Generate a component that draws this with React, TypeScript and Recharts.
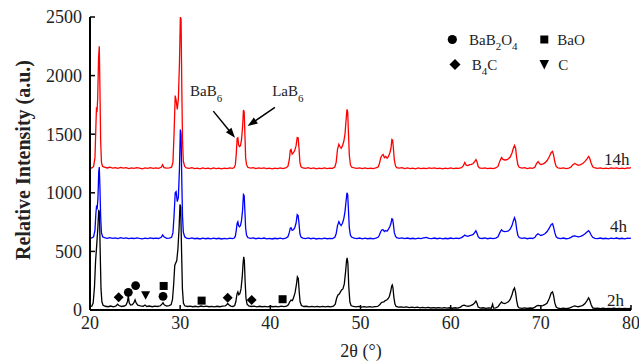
import React from 'react';
import { ComposedChart, Line, Scatter, XAxis, YAxis, Customized } from 'recharts';

const FONT = "'Liberation Serif', 'Times New Roman', serif";

const xTicks = [20, 30, 40, 50, 60, 70, 80];
const yTicks = [0, 500, 1000, 1500, 2000, 2500];

type P = [number, number];

const red14h: P[] = [
  [20.0,1215],[20.2,1212],[20.4,1225],[20.55,1300],[20.65,1560],[20.72,1730],[20.78,1690],[20.85,1800],[20.95,2150],[21.03,2250],
  [21.1,1900],[21.18,1450],[21.27,1260],[21.4,1225],[21.6,1218],[21.9,1212],[22.2,1218],[22.5,1210],[22.8,1215],[23.1,1208],
  [23.4,1216],[23.7,1210],[24.0,1214],[24.3,1206],[24.6,1212],[24.9,1208],[25.2,1215],[25.5,1210],[25.8,1205],[26.1,1212],
  [26.4,1208],[26.7,1214],[27.0,1209],[27.3,1212],[27.6,1208],[27.9,1218],[28.05,1240],[28.2,1215],[28.5,1210],[28.8,1213],
  [29.05,1218],[29.2,1260],[29.32,1500],[29.45,1830],[29.55,1790],[29.68,1712],[29.8,1800],[29.92,2100],[30.02,2500],[30.1,2480],
  [30.18,1900],[30.26,1450],[30.35,1270],[30.5,1225],[30.7,1212],[31.0,1208],[31.3,1214],[31.6,1206],[31.9,1210],[32.2,1204],
  [32.5,1212],[32.8,1206],[33.1,1210],[33.4,1205],[33.7,1212],[34.0,1207],[34.3,1210],[34.6,1204],[34.9,1210],[35.2,1206],
  [35.5,1212],[35.8,1208],[36.0,1215],[36.12,1240],[36.22,1330],[36.32,1465],[36.4,1470],[36.48,1410],[36.58,1395],[36.68,1400],
  [36.8,1450],[36.92,1560],[37.02,1706],[37.1,1690],[37.18,1500],[37.26,1300],[37.36,1240],[37.5,1218],[37.8,1210],[38.1,1214],
  [38.4,1206],[38.7,1212],[39.0,1208],[39.3,1213],[39.6,1206],[39.9,1210],[40.2,1204],[40.5,1211],[40.8,1207],[41.1,1212],
  [41.4,1206],[41.7,1213],[41.95,1225],[42.1,1280],[42.22,1365],[42.3,1370],[42.42,1330],[42.55,1340],[42.7,1360],[42.85,1400],
  [42.98,1472],[43.08,1470],[43.18,1380],[43.28,1260],[43.4,1222],[43.6,1212],[43.9,1208],[44.2,1214],[44.5,1207],[44.8,1212],
  [45.1,1205],[45.4,1210],[45.7,1206],[46.0,1212],[46.3,1207],[46.6,1210],[46.9,1208],[47.15,1220],[47.3,1260],[47.45,1370],
  [47.6,1413],[47.72,1395],[47.85,1380],[48.0,1400],[48.15,1440],[48.28,1500],[48.4,1620],[48.5,1712],[48.58,1690],[48.66,1520],
  [48.76,1320],[48.88,1240],[49.0,1220],[49.3,1212],[49.6,1208],[49.9,1213],[50.2,1206],[50.5,1212],[50.8,1207],[51.1,1211],
  [51.4,1206],[51.7,1212],[51.95,1220],[52.1,1250],[52.25,1300],[52.4,1320],[52.52,1327],[52.65,1300],[52.8,1310],[52.95,1295],
  [53.1,1310],[53.25,1340],[53.38,1380],[53.48,1455],[53.56,1450],[53.65,1380],[53.75,1280],[53.88,1230],[54.0,1215],[54.3,1210],
  [54.6,1214],[54.9,1207],[55.2,1212],[55.5,1206],[55.8,1210],[56.1,1205],[56.4,1212],[56.7,1207],[57.0,1211],[57.3,1206],
  [57.6,1212],[57.9,1208],[58.2,1213],[58.5,1207],[58.8,1211],[59.1,1205],[59.4,1210],[59.7,1206],[60.0,1212],[60.3,1207],
  [60.6,1211],[60.9,1208],[61.2,1215],[61.4,1230],[61.57,1258],[61.72,1235],[61.9,1232],[62.1,1240],[62.3,1242],[62.5,1250],
  [62.65,1265],[62.8,1284],[62.92,1265],[63.05,1225],[63.2,1212],[63.5,1208],[63.8,1213],[64.1,1206],[64.4,1211],[64.7,1207],
  [65.0,1212],[65.25,1225],[65.45,1270],[65.64,1301],[65.8,1285],[66.0,1280],[66.2,1282],[66.4,1290],[66.6,1305],[66.8,1340],
  [66.95,1380],[67.08,1404],[67.2,1380],[67.32,1300],[67.45,1240],[67.6,1218],[67.9,1210],[68.2,1214],[68.5,1207],[68.8,1212],
  [69.1,1208],[69.35,1220],[69.52,1250],[69.7,1267],[69.85,1250],[70.0,1242],[70.2,1245],[70.45,1255],[70.7,1275],[70.95,1310],
  [71.15,1345],[71.3,1353],[71.42,1320],[71.55,1265],[71.7,1225],[71.9,1212],[72.2,1208],[72.5,1213],[72.8,1207],[73.1,1211],
  [73.35,1220],[73.55,1240],[73.77,1250],[73.95,1242],[74.15,1235],[74.4,1240],[74.65,1250],[74.9,1268],[75.12,1290],[75.3,1310],
  [75.42,1295],[75.58,1255],[75.75,1222],[76.0,1212],[76.3,1208],[76.6,1213],[76.9,1207],[77.2,1211],[77.5,1206],[77.8,1212],
  [78.1,1208],[78.4,1213],[78.7,1207],[79.0,1211],[79.3,1206],[79.6,1212],[79.85,1210],[80.0,1215],
];

const blue4h: P[] = [
  [20.0,612],[20.2,615],[20.4,625],[20.55,680],[20.65,820],[20.72,880],[20.8,870],[20.88,950],[20.97,1180],[21.03,1220],
  [21.1,1050],[21.18,800],[21.27,660],[21.4,625],[21.6,617],[21.9,612],[22.2,618],[22.5,611],[22.8,616],[23.1,610],
  [23.4,617],[23.7,612],[24.0,615],[24.3,609],[24.6,614],[24.9,610],[25.2,616],[25.5,611],[25.8,607],[26.1,613],
  [26.4,609],[26.7,615],[27.0,610],[27.3,613],[27.6,610],[27.9,620],[28.05,640],[28.2,625],[28.5,612],[28.8,614],
  [29.05,620],[29.2,660],[29.32,800],[29.45,1000],[29.55,1010],[29.68,925],[29.8,960],[29.92,1200],[30.02,1540],[30.1,1500],
  [30.18,1100],[30.26,800],[30.35,665],[30.5,625],[30.7,614],[31.0,609],[31.3,615],[31.6,608],[31.9,612],[32.2,606],
  [32.5,613],[32.8,608],[33.1,612],[33.4,607],[33.7,613],[34.0,608],[34.3,612],[34.6,606],[34.9,611],[35.2,607],
  [35.5,613],[35.8,609],[36.0,614],[36.12,630],[36.22,680],[36.32,740],[36.4,753],[36.48,720],[36.58,710],[36.68,720],
  [36.8,760],[36.92,850],[37.02,985],[37.1,975],[37.18,840],[37.26,700],[37.36,640],[37.5,618],[37.8,611],[38.1,615],
  [38.4,608],[38.7,613],[39.0,609],[39.3,614],[39.6,607],[39.9,611],[40.2,606],[40.5,612],[40.8,608],[41.1,613],
  [41.4,607],[41.7,614],[41.95,625],[42.1,660],[42.22,700],[42.3,702],[42.42,680],[42.55,685],[42.7,700],[42.85,740],
  [42.98,813],[43.08,805],[43.18,740],[43.28,650],[43.4,622],[43.6,613],[43.9,609],[44.2,615],[44.5,608],[44.8,613],
  [45.1,606],[45.4,611],[45.7,607],[46.0,613],[46.3,608],[46.6,611],[46.9,609],[47.15,620],[47.3,650],[47.45,720],
  [47.6,753],[47.72,735],[47.85,720],[48.0,740],[48.15,780],[48.28,840],[48.4,930],[48.5,1000],[48.58,985],[48.66,860],
  [48.76,700],[48.88,640],[49.0,622],[49.3,613],[49.6,609],[49.9,614],[50.2,607],[50.5,613],[50.8,608],[51.1,612],
  [51.4,607],[51.7,613],[51.95,620],[52.1,640],[52.25,670],[52.4,685],[52.52,684],[52.65,670],[52.8,678],[52.95,672],
  [53.1,690],[53.25,710],[53.38,740],[53.48,779],[53.56,775],[53.65,730],[53.75,660],[53.88,630],[54.0,617],[54.3,612],
  [54.6,615],[54.9,609],[55.2,614],[55.5,608],[55.8,612],[56.1,607],[56.4,613],[56.7,609],[57.0,615],[57.3,620],
  [57.6,612],[57.9,609],[58.2,614],[58.5,608],[58.8,613],[59.1,607],[59.4,612],[59.7,608],[60.0,614],[60.3,609],
  [60.6,613],[60.9,610],[61.2,618],[61.4,628],[61.57,640],[61.72,632],[61.9,628],[62.1,634],[62.3,638],[62.5,645],
  [62.65,660],[62.8,676],[62.92,655],[63.05,625],[63.2,614],[63.5,610],[63.8,615],[64.1,608],[64.4,613],[64.7,609],
  [65.0,614],[65.25,625],[65.45,660],[65.64,685],[65.8,672],[66.0,668],[66.2,670],[66.4,675],[66.6,690],[66.8,720],
  [66.95,760],[67.08,788],[67.2,760],[67.32,690],[67.45,638],[67.6,618],[67.9,611],[68.2,615],[68.5,608],[68.8,613],
  [69.1,610],[69.35,620],[69.52,640],[69.7,650],[69.85,642],[70.0,636],[70.2,640],[70.45,650],[70.7,670],[70.95,700],
  [71.15,730],[71.3,736],[71.42,705],[71.55,660],[71.7,625],[71.9,613],[72.2,609],[72.5,614],[72.8,608],[73.1,612],
  [73.35,620],[73.55,630],[73.77,633],[73.95,628],[74.15,624],[74.4,628],[74.65,636],[74.9,650],[75.12,665],[75.3,676],
  [75.42,665],[75.58,640],[75.75,620],[76.0,612],[76.3,609],[76.6,614],[76.9,608],[77.2,612],[77.5,607],[77.8,613],
  [78.1,609],[78.4,614],[78.7,608],[79.0,612],[79.3,607],[79.6,613],[79.85,611],[80.0,614],
];

const black2h: P[] = [
  [20.0,30],[20.2,33],[20.35,60],[20.5,200],[20.62,420],[20.75,560],[20.87,700],[20.97,855],[21.05,830],[21.13,500],
  [21.22,180],[21.32,70],[21.45,40],[21.7,32],[22.0,28],[22.3,34],[22.6,27],[22.9,35],[23.05,50],[23.2,38],
  [23.5,30],[23.8,34],[24.0,42],[24.15,70],[24.25,120],[24.35,62],[24.5,42],[24.7,46],[24.87,62],[25.0,86],
  [25.12,60],[25.3,42],[25.6,35],[25.9,32],[26.1,42],[26.3,30],[26.6,34],[26.9,28],[27.2,33],[27.5,30],
  [27.8,36],[27.98,50],[28.1,62],[28.22,45],[28.5,33],[28.8,38],[29.0,46],[29.15,90],[29.28,220],[29.4,380],
  [29.5,400],[29.62,420],[29.75,520],[29.88,700],[29.98,900],[30.06,880],[30.15,520],[30.25,180],[30.36,60],[30.5,36],
  [30.8,30],[31.1,33],[31.4,28],[31.7,32],[32.0,27],[32.3,34],[32.6,29],[32.9,33],[33.2,28],[33.5,31],
  [33.8,27],[34.1,32],[34.4,28],[34.7,33],[35.0,35],[35.15,45],[35.27,55],[35.4,45],[35.6,33],[35.85,30],
  [36.05,38],[36.17,70],[36.3,135],[36.4,154],[36.5,130],[36.62,140],[36.75,180],[36.88,280],[36.98,400],[37.05,454],
  [37.12,420],[37.2,250],[37.3,100],[37.42,50],[37.6,34],[37.9,30],[38.2,33],[38.5,27],[38.8,32],[39.1,28],
  [39.4,31],[39.7,27],[40.0,32],[40.3,28],[40.6,31],[40.9,27],[41.2,33],[41.5,29],[41.8,33],[42.0,45],
  [42.15,70],[42.3,85],[42.45,80],[42.6,110],[42.75,150],[42.9,220],[43.0,283],[43.1,270],[43.2,160],[43.3,70],
  [43.45,38],[43.7,30],[44.0,32],[44.3,27],[44.6,31],[44.9,26],[45.2,30],[45.5,27],[45.8,31],[46.1,26],
  [46.4,30],[46.7,27],[47.0,33],[47.2,50],[47.35,100],[47.5,128],[47.62,135],[47.75,150],[47.9,171],[48.05,180],
  [48.2,220],[48.35,330],[48.45,420],[48.52,445],[48.6,400],[48.7,200],[48.82,70],[48.95,38],[49.2,30],[49.5,26],
  [49.8,30],[50.1,25],[50.4,29],[50.7,24],[51.0,28],[51.3,24],[51.6,28],[51.9,30],[52.1,42],[52.3,62],
  [52.45,68],[52.6,70],[52.75,80],[52.9,85],[53.05,95],[53.2,115],[53.35,160],[53.46,205],[53.53,214],[53.6,190],
  [53.7,110],[53.82,50],[53.95,30],[54.2,24],[54.5,27],[54.8,22],[55.1,26],[55.4,21],[55.7,25],[56.0,20],
  [56.3,24],[56.6,19],[56.9,23],[57.2,18],[57.5,22],[57.8,17],[58.1,21],[58.4,17],[58.7,20],[59.0,16],
  [59.3,20],[59.6,16],[59.9,19],[60.2,15],[60.5,19],[60.8,16],[61.1,25],[61.3,38],[61.5,42],[61.7,36],
  [61.95,32],[62.2,38],[62.45,45],[62.65,60],[62.8,77],[62.93,55],[63.05,25],[63.3,16],[63.6,19],[63.9,14],
  [64.2,18],[64.5,15],[64.65,50],[64.75,16],[65.0,18],[65.25,28],[65.45,50],[65.64,68],[65.8,58],[66.0,55],
  [66.2,62],[66.4,70],[66.6,90],[66.8,130],[66.95,170],[67.08,188],[67.2,150],[67.32,80],[67.45,30],[67.6,17],
  [67.9,14],[68.2,18],[68.5,13],[68.8,17],[69.1,15],[69.35,25],[69.55,36],[69.7,40],[69.85,38],[70.0,35],
  [70.2,38],[70.45,45],[70.7,60],[70.95,100],[71.15,145],[71.3,154],[71.42,120],[71.55,60],[71.7,25],[71.9,15],
  [72.2,12],[72.5,16],[72.8,12],[73.1,15],[73.35,22],[73.55,30],[73.77,35],[73.95,30],[74.15,28],[74.4,32],
  [74.65,40],[74.9,55],[75.12,80],[75.3,103],[75.42,85],[75.58,45],[75.75,18],[76.0,13],[76.3,16],[76.6,12],
  [76.9,15],[77.2,11],[77.5,14],[77.8,11],[78.1,15],[78.4,12],[78.7,14],[79.0,11],[79.3,14],[79.6,12],[80.0,13],
];

// phase markers on the 2h pattern
const circleMarks: P[] = [[24.25,151],[25.06,208],[28.1,117]];
const squareMarks: P[] = [[28.17,205],[32.38,80],[41.36,92]];
const diamondMarks: P[] = [[23.18,109],[35.27,105],[37.93,86]];
const triangleMarks: P[] = [[26.17,126]];

// arrow annotations (tip at data point)
const annotations = [
  { x: 36.08, y: 1470, main: 'BaB', sub: '6' },
  { x: 37.48, y: 1569, main: 'LaB', sub: '6' },
];

const rows = (a: P[]) => a.map(([x, y]) => ({ x, y }));

const annoLayout: Record<string, { sx: number; sy: number; tx: number; ty: number }> = {
  BaB: { sx: -21.7, sy: -26.6, tx: -45, ty: -41.6 },
  LaB: { sx: 27.3, sy: -18.7, tx: 24.6, ty: -29.7 },
};

const CircleShape = (p: any) => <circle cx={p.cx} cy={p.cy} r={4.4} fill="#000" />;
const SquareShape = (p: any) => <rect x={p.cx - 4} y={p.cy - 4} width={8} height={8} fill="#000" />;
const DiamondShape = (p: any) => (
  <polygon points={`${p.cx},${p.cy - 5} ${p.cx + 5},${p.cy} ${p.cx},${p.cy + 5} ${p.cx - 5},${p.cy}`} fill="#000" />
);
const TriangleShape = (p: any) => (
  <polygon points={`${p.cx - 4.5},${p.cy - 4} ${p.cx + 4.5},${p.cy - 4} ${p.cx},${p.cy + 4.5}`} fill="#000" />
);

const ArrowShape = (props: any) => {
  const { cx, cy, payload } = props;
  const L = annoLayout[payload.main];
  const x0 = cx + L.sx;
  const y0 = cy + L.sy;
  const dx = cx - x0;
  const dy = cy - y0;
  const len = Math.hypot(dx, dy);
  const ux = dx / len;
  const uy = dy / len;
  const head = 10;
  const hw = 3.6;
  const bx = cx - ux * head;
  const by = cy - uy * head;
  const pts = `${cx},${cy} ${bx - uy * hw},${by + ux * hw} ${bx + uy * hw},${by - ux * hw}`;
  return (
    <g>
      <line x1={x0} y1={y0} x2={bx + ux * 2} y2={by + uy * 2} stroke="#000" strokeWidth={1.5} />
      <polygon points={pts} fill="#000" />
      <text x={cx + L.tx} y={cy + L.ty} fontSize={15} fontFamily={FONT} fill="#222">
        {payload.main}
        <tspan dy={6} fontSize={11}>{payload.sub}</tspan>
      </text>
    </g>
  );
};

const Decorations = () => (
  <g fontFamily={FONT} fill="#222">
    <text x={23} y={160} transform="rotate(-90, 23, 160)" textAnchor="middle" dominantBaseline="central" fontSize={20} fontWeight="bold">
      Relative Intensity (a.u.)
    </text>
    <text x={361} y={357} textAnchor="middle" fontSize={18}>2θ (°)</text>
    <text x={604} y={165} fontSize={17}>14h</text>
    <text x={610} y={232} fontSize={17}>4h</text>
    <text x={607} y={306} fontSize={17}>2h</text>
    <circle cx={452.3} cy={39.5} r={4.6} fill="#000" />
    <text x={469} y={44.5} fontSize={15}>
      BaB<tspan dy={5} fontSize={11}>2</tspan><tspan dy={-5}>O</tspan><tspan dy={5} fontSize={11}>4</tspan>
    </text>
    <rect x={540.3} y={35.5} width={8} height={8} fill="#000" />
    <text x={557.3} y={44.5} fontSize={15}>BaO</text>
    <polygon points="455,59 460.5,64.5 455,70 449.5,64.5" fill="#000" />
    <text x={471.7} y={69.5} fontSize={15}>
      B<tspan dy={5} fontSize={11}>4</tspan><tspan dy={-5}>C</tspan>
    </text>
    <polygon points="539.5,60 549,60 544.3,69.5" fill="#000" />
    <text x={558.3} y={69.5} fontSize={15}>C</text>
  </g>
);

const axisLine = { stroke: '#000', strokeWidth: 2 };
const tickLine = { stroke: '#000', strokeWidth: 1.5 };
const tickStyle = { fontSize: 18, fill: '#222', fontFamily: FONT, style: { fontFamily: FONT } };

export default function App() {
  return (
    <div style={{ position: 'absolute', left: 0, top: 0, width: 639, height: 363, background: '#fff', fontFamily: FONT }}>
      <ComposedChart width={639} height={363} margin={{ top: 17, right: 8, bottom: 0, left: 0 }} style={{ fontFamily: FONT }}>
        <XAxis
          xAxisId="b"
          dataKey="x"
          type="number"
          domain={[20, 80]}
          ticks={xTicks}
          allowDataOverflow
          height={53}
          axisLine={axisLine}
          tickLine={tickLine}
          tickSize={-5}
          tickMargin={11}
          tick={tickStyle}
          interval={0}
        />
        <XAxis
          xAxisId="t"
          orientation="top"
          dataKey="x"
          type="number"
          domain={[20, 80]}
          ticks={xTicks}
          allowDataOverflow
          height={0}
          axisLine={axisLine}
          tickLine={tickLine}
          tickSize={-5}
          tickFormatter={() => ''}
          interval={0}
        />
        <YAxis
          yAxisId="l"
          type="number"
          domain={[0, 2500]}
          ticks={yTicks}
          allowDataOverflow
          width={90}
          axisLine={axisLine}
          tickLine={tickLine}
          tickSize={-5}
          tickMargin={13}
          tick={tickStyle}
          interval={0}
        />
        <YAxis
          yAxisId="r"
          orientation="right"
          type="number"
          domain={[0, 2500]}
          ticks={yTicks}
          allowDataOverflow
          width={0}
          axisLine={axisLine}
          tickLine={tickLine}
          tickSize={-5}
          tickFormatter={() => ''}
          interval={0}
        />
        <Line xAxisId="b" yAxisId="l" data={rows(black2h)} dataKey="y" stroke="#000" strokeWidth={1.3} dot={false} isAnimationActive={false} />
        <Line xAxisId="b" yAxisId="l" data={rows(blue4h)} dataKey="y" stroke="#0000ff" strokeWidth={1.3} dot={false} isAnimationActive={false} />
        <Line xAxisId="b" yAxisId="l" data={rows(red14h)} dataKey="y" stroke="#ff0000" strokeWidth={1.3} dot={false} isAnimationActive={false} />
        <Scatter xAxisId="b" yAxisId="l" data={rows(circleMarks)} dataKey="y" shape={CircleShape} isAnimationActive={false} />
        <Scatter xAxisId="b" yAxisId="l" data={rows(squareMarks)} dataKey="y" shape={SquareShape} isAnimationActive={false} />
        <Scatter xAxisId="b" yAxisId="l" data={rows(diamondMarks)} dataKey="y" shape={DiamondShape} isAnimationActive={false} />
        <Scatter xAxisId="b" yAxisId="l" data={rows(triangleMarks)} dataKey="y" shape={TriangleShape} isAnimationActive={false} />
        <Scatter xAxisId="b" yAxisId="l" data={annotations} dataKey="y" shape={ArrowShape} isAnimationActive={false} />
        <Customized component={Decorations} />
      </ComposedChart>
    </div>
  );
}
